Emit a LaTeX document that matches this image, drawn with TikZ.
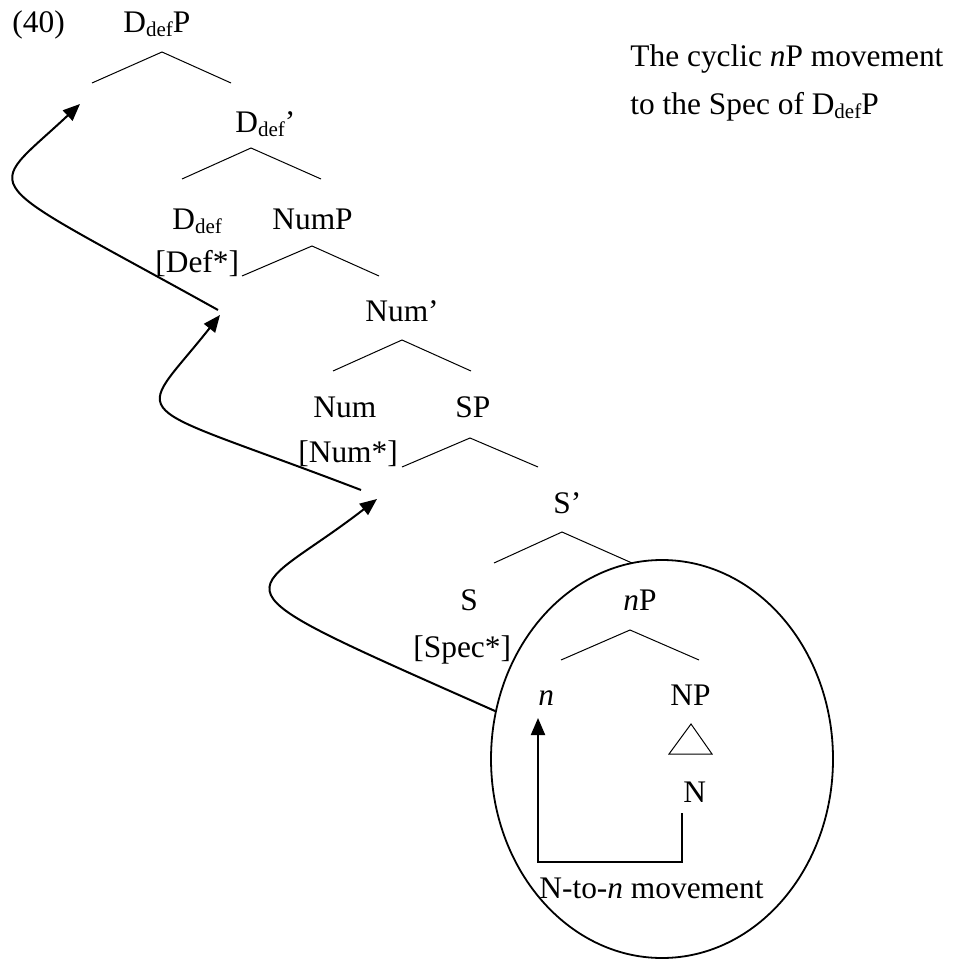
\documentclass[tikz,border=0pt]{standalone}
\usepackage{fontspec}
\setmainfont{Liberation Serif}
\usetikzlibrary{arrows.meta}
\newcommand\subdef{\raisebox{-1.6pt}{\fontsize{10.5}{12}\selectfont def}}
\begin{document}
\begin{tikzpicture}[x=0.5pt,y=-0.5pt,
  lbl/.style={anchor=base west, inner sep=0pt, font=\fontsize{15.7}{18}\selectfont},
  branch/.style={line width=0.5pt},
  move/.style={line width=1pt, -{Triangle[length=8.5pt,width=7pt]}},
  bubble/.style={line width=0.9pt}]
\useasboundingbox (0,0) rectangle (952,961);

% labels
\node[lbl] (ex) at (12,33) {(40)};
\node[lbl] (DdefP) at (123,33) {D\subdef P};
\node[lbl] (Ddefbar) at (235,133) {D\subdef’};
\node[lbl] (Ddef) at (172,230) {D\subdef};
\node[lbl] (NumP) at (272,230) {NumP};
\node[lbl] (Deff) at (155,273) {[Def*]};
\node[lbl] (Numbar) at (365,322) {Num’};
\node[lbl] (Num) at (313,418) {Num};
\node[lbl] (SP) at (455,418) {SP};
\node[lbl] (Numf) at (298,462) {[Num*]};
\node[lbl] (Sbar) at (553,513) {S’};
\node[lbl] (S) at (460,610) {S};
\node[lbl] (Specf) at (413,657) {[Spec*]};
\node[lbl] (nP) at (623,610) {\textit{n}P};
\node[lbl] (n) at (538,705) {\textit{n}};
\node[lbl] (NP) at (670,705) {NP};
\node[lbl] (N) at (683,802) {N};
\node[lbl] (Nton) at (539,898) {N-to-\textit{n} movement};
\node[lbl] (cap1) at (630,67) {The cyclic \textit{n}P movement};
\node[lbl] (cap2) at (630,115) {to the Spec of D\subdef P};

% branches
\foreach \name/\ax/\ay/\lx/\rx/\by in {b1/162/52/92/231/83, b2/251/148/182/321/179,
   b3/312/246/242/379/276, b4/402/340/333/471/371, b5/470/438/402/538/467,
   b6/562/532/494/632/563, b7/630/630/561/699/660}{
  \coordinate (\name a) at (\ax,\ay);
  \coordinate (\name l) at (\lx,\by);
  \coordinate (\name r) at (\rx,\by);
  \draw[branch] (\name l) -- (\name a) -- (\name r);
}
% triangle under NP
\coordinate (ta) at (691,724);
\coordinate (tl) at (669,754);
\coordinate (tr) at (712,754);
\draw[branch] (ta) -- (tl) -- (tr) -- cycle;

% bubble
\draw[bubble] (662,759) ellipse [x radius=171, y radius=199];

% movement arrows
\coordinate (a1s) at (495,711);
\coordinate (a1e) at (377,499);
\coordinate (a2s) at (361,490);
\coordinate (a2e) at (220,315);
\coordinate (a3s) at (218,310);
\coordinate (a3e) at (80,104);
\draw[move] (a1s) .. controls (193,577) and (243,603) .. (a1e);
\draw[move] (a2s) .. controls (118,397) and (133,425) .. (a2e);
\draw[move] (a3s) .. controls (-30,172) and (-18,196) .. (a3e);

% N-to-n movement
\coordinate (lN) at (682,813);
\coordinate (lC) at (538,862);
\coordinate (ln) at (538,718);
\draw[move] (lN) |- (lC) -- (ln);
\end{tikzpicture}
\end{document}
